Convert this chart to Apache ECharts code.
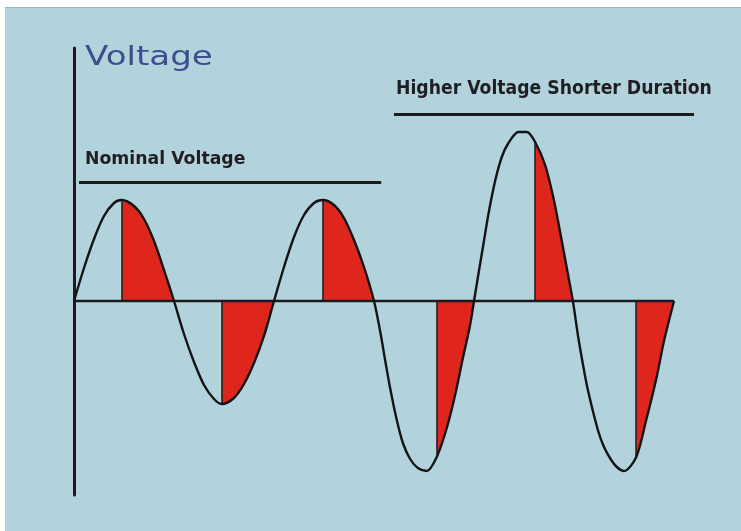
<!DOCTYPE html>
<html>
<head>
<meta charset="utf-8">
<script src="https://cdn.jsdelivr.net/npm/echarts@6/dist/echarts.min.js"></script>
<style>
  html, body { margin: 0; padding: 0; background: #fff; }
  .bg { position: absolute; left: 5px; top: 7px; width: 736px; height: 524px; background: #b3d3dc; border-top: 1px solid #9db3ba; box-sizing: border-box; }
  #main { position: absolute; left: 0; top: 0; width: 741px; height: 531px; }
</style>
</head>
<body>
<div class="bg"></div>
<div id="main"></div>
<script>
  // waveform: phase (deg) and voltage (nominal peak ~ 100)
  var phaseDeg = [0, 18, 36, 54, 72, 86, 108, 126, 144, 162, 180,
    198, 216, 234, 252, 266, 288, 306, 324, 342, 360,
    378, 396, 414, 432, 448, 468, 486, 504, 522, 540,
    551, 560, 569, 581, 592, 605, 619, 635, 653, 671, 686, 700, 713, 720,
    728, 737, 746, 758, 770, 782, 800, 815, 830, 848, 863, 875, 887, 898,
    907, 916, 925, 943, 954, 967, 977, 990, 1012, 1030, 1048, 1062, 1080];
  var voltage = [0, 33, 62, 85, 98, 101, 95, 82, 60, 31, 0,
    -33, -61, -84, -98, -103, -97, -83, -62, -35, 0,
    34, 64, 86, 98, 101, 96, 83, 61, 34, 0,
    -30, -59, -87, -119, -142, -158, -167, -170, -156, -127, -94, -57, -24, 0,
    27, 57, 87, 120, 144, 158, 169, 169, 159, 136, 103, 69, 33, 0,
    -34, -63, -89, -129, -146, -159, -166, -170, -156, -119, -78, -40, 0];

  // red shaded parts: from the start point to the next zero crossing
  var redStart = [86, 266, 448, 653, 830, 1012];
  var redEnd = [180, 360, 540, 720, 898, 1080];

  var labels = ['Voltage', 'Nominal Voltage', 'Higher Voltage Shorter Duration'];
  // underline rules: [xFrom, xTo, y]
  var nominalRule = [9, 553, 119];
  var higherRule = [576, 1116, 187];

  var curve = phaseDeg.map(function (x, i) { return [x, voltage[i]]; });

  var series = [];
  var edges = [];
  redStart.forEach(function (s, k) {
    var part = curve.filter(function (p) { return p[0] >= s && p[0] <= redEnd[k]; });
    series.push({
      type: 'line',
      data: part,
      smooth: 0.3,
      symbol: 'none',
      silent: true,
      z: 1,
      lineStyle: { width: 0 },
      areaStyle: { color: '#df261c', opacity: 1, origin: 0 }
    });
    edges.push([{ coord: [s, 0] }, { coord: [s, part[0][1]] }]);
  });

  series.push({
    type: 'line',
    data: [[0, 0], [1080, 0]],
    symbol: 'none',
    silent: true,
    z: 2,
    lineStyle: { color: '#1b1b1e', width: 2.5 },
    markLine: {
      silent: true,
      symbol: 'none',
      label: { show: false },
      lineStyle: { color: '#1b1b1e', width: 1.5, type: 'solid' },
      data: edges
    }
  });

  series.push({
    type: 'line',
    data: [],
    z: 2,
    markLine: {
      silent: true,
      symbol: 'none',
      label: { show: false },
      lineStyle: { color: '#1b1b1e', width: 3, type: 'solid' },
      data: [
        [{ coord: [nominalRule[0], nominalRule[2]] }, { coord: [nominalRule[1], nominalRule[2]] }],
        [{ coord: [higherRule[0], higherRule[2]] }, { coord: [higherRule[1], higherRule[2]] }]
      ]
    }
  });

  series.push({
    type: 'line',
    data: curve,
    smooth: 0.3,
    symbol: 'none',
    silent: true,
    z: 3,
    lineStyle: { color: '#141416', width: 2.4 }
  });

  var myChart = echarts.init(document.getElementById('main'));
  var option = {
    backgroundColor: 'transparent',
    animation: false,
    grid: { left: 74, top: 48, right: 17, bottom: 36 },
    xAxis: { type: 'value', min: 0, max: 1170, show: false },
    yAxis: {
      type: 'value',
      min: -194,
      max: 253,
      axisLine: { show: true, onZero: false, lineStyle: { color: '#1b1b1e', width: 3 } },
      axisTick: { show: false },
      axisLabel: { show: false },
      splitLine: { show: false }
    },
    graphic: [
      {
        type: 'text', x: 85, y: 58, scaleX: 1.31,
        style: { text: labels[0], font: '26px "DejaVu Sans"', fill: '#3d4e8e', verticalAlign: 'middle' }
      },
      {
        type: 'text', x: 85, y: 159, scaleX: 0.96,
        style: { text: labels[1], font: 'bold 18px "DejaVu Sans"', fill: '#1f1f23', verticalAlign: 'middle' }
      },
      {
        type: 'text', x: 396, y: 89, scaleX: 0.908,
        style: { text: labels[2], font: 'bold 19px "DejaVu Sans"', fill: '#1f1f23', verticalAlign: 'middle' }
      }
    ],
    series: series
  };
  myChart.setOption(option);
</script>
</body>
</html>
